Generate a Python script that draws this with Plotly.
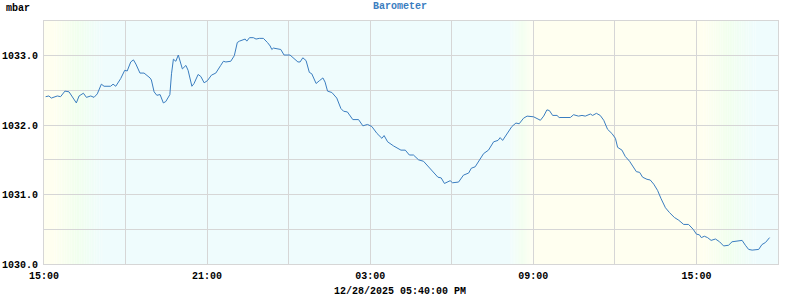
import datetime as dt
import plotly.graph_objects as go

# ---- data -------------------------------------------------------------
START = dt.datetime(2025, 12, 27, 15, 0)
END = dt.datetime(2025, 12, 28, 18, 0)

hours_since_start = [
    0.06, 0.18, 0.27, 0.49, 0.61, 0.77, 0.92, 1.04, 1.19, 1.29, 1.45, 1.56, 1.72, 1.84, 1.96,
    2.11, 2.21, 2.45, 2.54, 2.64, 2.82, 2.97, 3.06, 3.19, 3.29, 3.38, 3.53, 3.68, 3.90, 3.95,
    4.05, 4.15, 4.27, 4.39, 4.48, 4.63, 4.69, 4.76, 4.85, 4.94, 5.01, 5.09, 5.22, 5.30, 5.44,
    5.52, 5.67, 5.77, 5.89, 6.01, 6.16, 6.32, 6.50, 6.60, 6.69, 6.87,
    7.00, 7.11, 7.19, 7.40, 7.46, 7.56, 7.70, 7.80, 7.92, 8.07, 8.22, 8.32, 8.38, 8.44, 8.71,
    8.83, 9.05, 9.18, 9.34, 9.42, 9.52, 9.64, 9.76, 9.85, 10.01, 10.13, 10.26, 10.34, 10.43,
    10.59, 10.77, 10.92, 11.02, 11.16, 11.36, 11.57, 11.73, 11.90, 12.06, 12.25, 12.43, 12.51,
    12.64, 12.86, 13.13, 13.29, 13.44, 13.59,
    13.78, 13.96, 14.14, 14.33, 14.49, 14.61, 14.73, 14.94, 15.03, 15.25, 15.43, 15.62, 15.72,
    15.86, 15.98, 16.17, 16.35, 16.54, 16.70, 16.78, 16.87, 17.03, 17.21, 17.36, 17.48, 17.64,
    17.77, 18.01, 18.26, 18.38, 18.50, 18.59, 18.71, 18.87, 18.95, 19.36, 19.48, 19.66, 19.79,
    19.91, 20.10, 20.18, 20.32, 20.46,
    20.59, 20.73, 20.89, 21.02, 21.10, 21.26, 21.38, 21.54, 21.65, 21.79, 21.91, 22.02, 22.18,
    22.30, 22.43, 22.57, 22.70, 22.86, 23.01, 23.19, 23.35, 23.53, 23.71, 23.88, 24.00, 24.11,
    24.18, 24.29, 24.41, 24.54, 24.70, 24.85, 25.00, 25.18, 25.31, 25.47, 25.68, 25.80, 25.92,
    26.05, 26.29, 26.41, 26.54, 26.69,
]

pressure_mbar = [
    1032.41, 1032.42, 1032.39, 1032.42, 1032.41, 1032.49, 1032.48, 1032.41, 1032.32, 1032.42,
    1032.46, 1032.40, 1032.42, 1032.40, 1032.45, 1032.59, 1032.56, 1032.56, 1032.59, 1032.56,
    1032.67, 1032.79, 1032.78, 1032.91, 1032.94, 1032.88, 1032.75, 1032.75, 1032.68, 1032.65,
    1032.48, 1032.43, 1032.44, 1032.32, 1032.34, 1032.44, 1032.74, 1032.95, 1032.92, 1033.01,
    1032.93, 1032.81, 1032.86, 1032.79, 1032.56, 1032.60, 1032.73, 1032.70, 1032.61, 1032.64,
    1032.72, 1032.75, 1032.86, 1032.92, 1032.91, 1032.92,
    1033.00, 1033.19, 1033.21, 1033.24, 1033.21, 1033.26, 1033.26, 1033.24, 1033.25, 1033.25,
    1033.19, 1033.14, 1033.09, 1033.11, 1033.09, 1033.01, 1033.01, 1032.96, 1032.91, 1032.91,
    1032.97, 1032.93, 1032.76, 1032.74, 1032.60, 1032.64, 1032.68, 1032.62, 1032.49, 1032.47,
    1032.39, 1032.24, 1032.20, 1032.19, 1032.08, 1032.08, 1031.99, 1032.01, 1031.98, 1031.88,
    1031.81, 1031.85, 1031.76, 1031.70, 1031.64, 1031.64, 1031.57, 1031.57,
    1031.50, 1031.48, 1031.40, 1031.33, 1031.25, 1031.24, 1031.16, 1031.20, 1031.17, 1031.18,
    1031.28, 1031.31, 1031.38, 1031.40, 1031.48, 1031.59, 1031.64, 1031.76, 1031.78, 1031.82,
    1031.78, 1031.88, 1031.98, 1032.03, 1032.02, 1032.10, 1032.13, 1032.12, 1032.07, 1032.13,
    1032.22, 1032.21, 1032.14, 1032.14, 1032.11, 1032.11, 1032.15, 1032.13, 1032.14, 1032.13,
    1032.16, 1032.14, 1032.17, 1032.14,
    1032.07, 1031.94, 1031.88, 1031.81, 1031.68, 1031.64, 1031.55, 1031.48, 1031.41, 1031.33,
    1031.32, 1031.25, 1031.22, 1031.21, 1031.15, 1031.06, 1030.94, 1030.81, 1030.74, 1030.67,
    1030.63, 1030.57, 1030.57, 1030.50, 1030.43, 1030.42, 1030.38, 1030.40, 1030.38, 1030.34,
    1030.36, 1030.32, 1030.26, 1030.27, 1030.32, 1030.33, 1030.34, 1030.27, 1030.21, 1030.20,
    1030.21, 1030.28, 1030.31, 1030.38,
]

# day / night background transitions (start, end, kind)
DAY = (255, 255, 240)
MID = (241, 255, 238)
NIGHT = (239, 252, 253)
transitions = [
    (dt.datetime(2025, 12, 27, 15, 20), dt.datetime(2025, 12, 27, 17, 10), "dusk"),
    (dt.datetime(2025, 12, 28, 8, 10), dt.datetime(2025, 12, 28, 9, 0), "dawn"),
    (dt.datetime(2025, 12, 28, 15, 15), dt.datetime(2025, 12, 28, 17, 10), "dusk"),
]

Y_MIN, Y_MAX = 1030.0, 1033.5
TITLE = "Barometer"
UNIT = "mbar"
STAMP = "12/28/2025 05:40:00 PM"

# ---- figure ------------------------------------------------------------
times = [START + dt.timedelta(hours=h) for h in hours_since_start]

FONT = "Liberation Mono, Courier New, monospace"


def mix(a, b, f):
    return "rgb(%d,%d,%d)" % tuple(round(a[i] + (b[i] - a[i]) * f) for i in range(3))


def grad(f, kind):
    if kind == "dawn":
        f = 1 - f
    if f < 0.5:
        return mix(DAY, MID, f / 0.5)
    return mix(MID, NIGHT, (f - 0.5) / 0.5)


def band(x0, x1, color):
    return dict(type="rect", xref="x", yref="paper", x0=x0, x1=x1, y0=0, y1=1,
                fillcolor=color, line_width=0, layer="below")


shapes = [
    band(START, transitions[0][0], mix(DAY, DAY, 0)),
    band(transitions[0][1], transitions[1][0], mix(NIGHT, NIGHT, 0)),
    band(transitions[1][1], transitions[2][0], mix(DAY, DAY, 0)),
    band(transitions[2][1], END, mix(NIGHT, NIGHT, 0)),
]
N = 30
for t0, t1, kind in transitions:
    span = t1 - t0
    for i in range(N):
        shapes.append(band(t0 + span * (i / N), t0 + span * ((i + 1) / N),
                           grad((i + 0.5) / N, kind)))

fig = go.Figure()
fig.add_trace(go.Scatter(x=times, y=pressure_mbar, mode="lines",
                         line=dict(color="#3a7dc0", width=1), hoverinfo="skip"))

grid = "#d6d6d6"
tickfont = dict(family=FONT, size=10, color="black", weight="bold")
fig.update_layout(
    width=800, height=300,
    margin=dict(l=44, r=22, t=21, b=36, autoexpand=False),
    paper_bgcolor="white", plot_bgcolor="white",
    showlegend=False,
    shapes=shapes,
    font=dict(family=FONT, size=10, color="black", weight="bold"),
    xaxis=dict(
        type="date", range=[START, END], automargin=False,
        tick0=START, dtick=6 * 3600 * 1000, tickformat="%H:%M",
        showgrid=True, gridcolor=grid, gridwidth=1,
        minor=dict(dtick=3 * 3600 * 1000, showgrid=True, gridcolor=grid, gridwidth=1),
        showline=True, linecolor=grid, linewidth=1, mirror=True,
        ticks="", ticklen=0, zeroline=False, tickfont=tickfont,
        ticklabelstandoff=2,
    ),
    yaxis=dict(
        range=[Y_MIN, Y_MAX], automargin=False, tick0=1030, dtick=1.0, tickformat=".1f",
        showgrid=True, gridcolor=grid, gridwidth=1,
        minor=dict(dtick=0.5, showgrid=True, gridcolor=grid, gridwidth=1),
        showline=True, linecolor=grid, linewidth=1, mirror=True,
        ticks="", ticklen=0, zeroline=False, tickfont=tickfont,
        ticklabelstandoff=3,
    ),
    annotations=[
        dict(text=TITLE, xref="paper", yref="paper", x=0.485, y=1.0, yshift=15,
             showarrow=False, xanchor="center", yanchor="middle",
             font=dict(family=FONT, size=10, color="#3a7dc0", weight="bold")),
        dict(text=UNIT, xref="paper", yref="paper", x=0, xshift=-40, y=1.0, yshift=13,
             showarrow=False, xanchor="left", yanchor="middle",
             font=dict(family=FONT, size=10, color="black", weight="bold")),
        dict(text=STAMP, xref="paper", yref="paper", x=0.485, y=0, yshift=-27,
             showarrow=False, xanchor="center", yanchor="middle",
             font=dict(family=FONT, size=10, color="black", weight="bold")),
    ],
)

fig.write_html("out.html")
